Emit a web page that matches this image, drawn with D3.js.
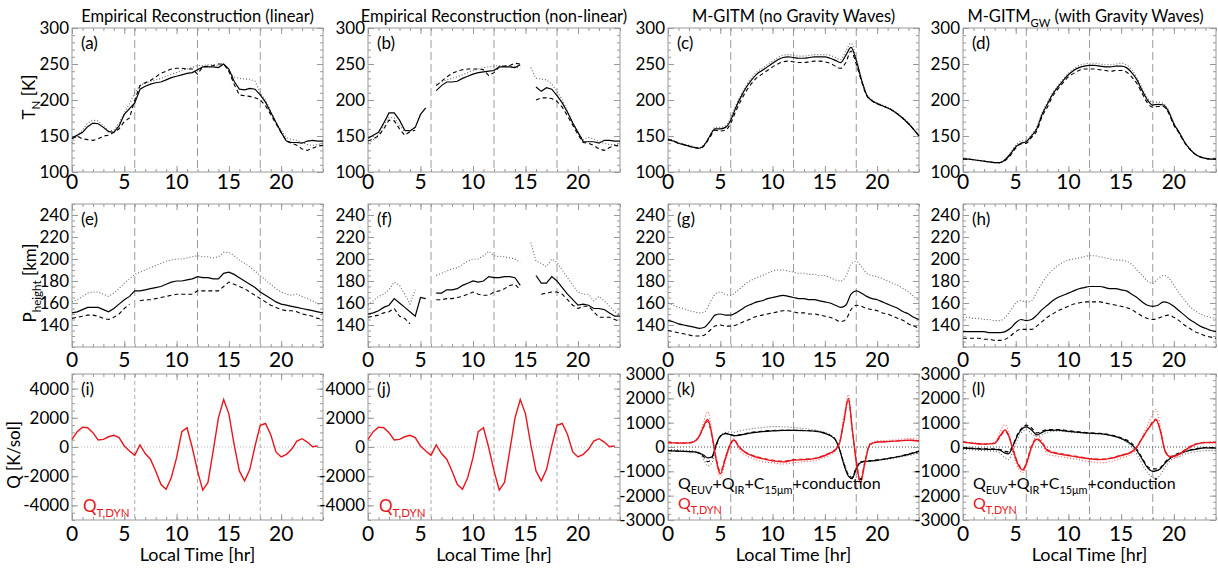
<!DOCTYPE html>
<html>
<head>
<meta charset="utf-8">
<script src="https://cdn.jsdelivr.net/npm/d3@7"></script>
<style>
body { margin: 0; background: #fff; }
text { font-family: Lato, "Open Sans", sans-serif; fill: #000; }
</style>
</head>
<body>
<script>
// local time grid (hr) for the half-hourly curves
var hours = [0,0.5,1,1.5,2,2.5,3,3.5,4,4.5,5,5.5,6,6.5,7,7.5,8,8.5,9,9.5,10,10.5,11,11.5,12,
             12.5,13,13.5,14,14.5,15,15.5,16,16.5,17,17.5,18,18.5,19,19.5,20,20.5,21,21.5,22,22.5,23,23.5,24];
// irregular grids for the model heating panels (k) and (l)
var hoursK = [0,1,2,2.5,3,3.4,3.8,4.2,4.6,5,5.5,6,6.3,6.8,7.5,8,9,10,11,12,13,14,15,15.5,16,16.4,16.8,17.25,17.6,18,18.4,18.8,19.3,20,21,22,23,24];
var hoursL = [0,1,2,3,3.5,4,4.3,4.8,5.2,5.7,6,6.5,7,7.5,8,9,10,11,12,13,14,15,16,16.5,17,17.5,18,18.3,18.7,19.2,19.7,20.5,21,22,23,24];

var timeTicks = [0, 5, 10, 15, 20];
var tempTicks = [100, 150, 200, 250, 300];
var heightTicks = [140, 160, 180, 200, 220, 240];
var qEmpTicks = [-4000, -2000, 0, 2000, 4000];
var qModTicks = [-3000, -2000, -1000, 0, 1000, 2000, 3000];
var terminators = [6, 12, 18];

// T_N [K]
var tempLinSolid  = [148,151,155,163,168,167,162,156,155,164,180,188,196,215,219,222,224,225,228,231,233,235,237,238,242,246,246,246,245,250,243,226,215,214,216,215,207,197,183,169,155,143,141,141,140,143,144,143,143];
var tempLinDashed = [146,150,146,145,144,146,150,151,155,160,170,175,200,220,224,227,232,237,240,243,244,244,243,243,236,246,247,248,250,250,240,222,207,206,205,203,200,192,180,167,155,143,140,137,132,130,133,136,137];
var tempLinDotted = [140,152,158,168,172,171,164,157,158,168,182,195,210,220,223,226,228,230,233,236,238,241,243,245,248,248,249,249,248,250,240,232,230,229,229,226,210,200,185,168,158,148,145,144,141,138,137,138,140];

var tempNlSolid  = [147,151,155,168,182,182,172,158,157,162,180,189,null,213,220,225,225,226,230,233,236,238,239,240,241,246,246,246,245,249,null,null,218,212,217,215,206,196,183,168,155,142,142,142,140,144,144,143,143];
var tempNlDashed = [143,146,150,160,172,171,160,151,156,158,null,null,null,220,226,232,237,240,242,243,243,243,242,234,238,246,247,248,251,250,null,null,200,203,203,202,198,190,178,165,152,141,140,137,132,130,134,137,136];
var tempNlDotted = [140,145,152,165,176,175,165,156,158,162,null,null,null,222,225,228,230,232,235,238,241,243,245,246,247,248,248,247,246,244,null,245,230,229,228,222,212,200,185,168,155,145,148,146,142,140,138,138,139];

var tempGitmSolid  = [145,143,140,138,136,134,133,138,150,160,160,162,172,190,205,218,228,236,241,246,251,256,259,260,259,258,258,259,260,260,260,258,255,252,262,273,255,228,207,199,195,192,189,185,180,174,167,159,150];
var tempGitmDashed = [145,143,140,138,136,134,133,137,148,158,157,158,168,185,200,213,223,231,236,241,246,250,253,254,253,252,252,253,254,254,253,251,247,244,252,268,250,226,206,199,195,192,189,185,180,174,167,159,150];
var tempGitmDotted = [146,144,141,139,137,135,134,139,151,162,162,164,176,193,208,221,231,239,244,249,254,259,262,263,262,261,261,262,263,263,263,262,259,256,268,279,258,230,208,200,196,193,190,186,181,175,168,159,150];

var tempGwSolid  = [118,118,117,116,115,114,113,113,117,125,135,140,142,150,160,180,194,208,218,227,235,241,245,247,248,248,247,246,246,247,247,245,238,228,213,200,193,194,193,184,167,155,142,132,125,121,119,118,118];
var tempGwDashed = [118,118,117,116,115,114,113,113,116,123,133,139,140,148,157,177,190,205,215,224,232,237,241,243,243,243,242,241,240,241,241,239,232,223,209,196,190,191,191,182,165,154,141,132,125,121,119,118,118];
var tempGwDotted = [118,118,117,116,115,114,113,113,118,127,137,143,144,152,163,182,197,210,220,229,237,243,248,250,251,251,250,249,249,250,251,249,242,231,216,203,197,197,195,186,168,156,143,133,125,121,119,118,118];

// P_height [km]
var htLinSolid  = [151,152,154,156,156,156,154,152,155,159,163,166,171,171,172,173,174,175,177,179,180,180,181,182,184,183,183,182,182,187,188,186,183,180,177,174,170,167,164,161,159,158,157,156,155,154,153,152,151];
var htLinDashed = [146,147,148,149,149,148,146,145,147,150,155,159,null,162,163,163,164,165,166,167,168,168,168,168,171,171,171,171,171,175,179,177,175,173,170,167,164,161,158,156,154,153,153,152,150,149,148,146,145];
var htLinDotted = [161,163,166,169,170,170,168,166,169,173,178,182,186,188,190,192,194,196,198,199,200,200,201,202,203,202,202,201,202,206,206,203,199,196,193,189,185,181,177,173,170,168,167,168,166,164,162,159,160];

var htNlSolid  = [150,151,153,156,158,164,160,156,152,148,165,164,null,169,169,172,172,173,176,178,180,179,180,184,183,183,184,184,183,176,null,null,185,178,178,184,180,174,168,163,158,159,158,155,155,154,151,148,148];
var htNlDashed = [147,148,149,151,152,155,148,146,141,null,null,null,null,163,163,164,164,165,166,168,170,168,167,167,170,171,173,176,177,172,null,null,null,168,169,170,170,168,163,158,155,157,157,152,147,147,147,145,143];
var htNlDotted = [158,162,166,168,172,179,176,168,159,172,null,null,null,185,187,189,191,192,195,198,200,200,203,207,203,202,202,201,200,197,null,215,198,196,193,200,197,190,183,176,170,168,168,162,166,162,157,152,150];

var htGitmSolid  = [144,143,141,140,139,138,137,138,143,149,150,149,149,151,154,157,159,161,162,164,165,166,167,166,165,164,164,163,163,162,161,160,158,156,158,168,171,169,166,164,163,161,159,157,155,152,150,147,145];
var htGitmDashed = [135,134,133,132,131,130,130,131,135,139,140,139,139,140,142,144,146,148,149,150,151,152,153,153,152,151,151,150,150,149,148,147,145,143,145,154,158,157,155,154,153,151,150,148,146,144,141,139,137];
var htGitmDotted = [160,158,156,155,153,152,151,152,160,168,170,168,167,170,174,178,181,183,185,187,189,190,190,189,188,187,187,186,186,185,185,183,181,180,184,195,198,193,187,185,184,182,180,178,176,173,170,166,162];

var htGwSolid  = [134,134,134,134,134,133,133,133,134,137,142,145,144,145,149,154,158,162,165,167,169,171,173,174,175,175,175,174,173,173,172,171,168,165,161,158,157,158,161,160,157,153,149,145,142,139,137,135,134];
var htGwDashed = [128,128,128,128,127,127,126,126,127,130,134,136,136,136,139,143,147,150,153,155,157,159,160,161,161,161,161,160,159,158,157,156,154,151,148,146,145,146,148,149,147,144,140,137,134,132,130,129,128];
var htGwDotted = [147,147,146,146,145,145,144,144,147,153,160,162,161,162,170,178,185,190,194,197,199,200,201,202,203,203,202,201,200,199,199,198,195,190,185,180,178,182,185,183,176,169,163,157,153,150,148,147,146];

// Q [K/sol], empirical dynamical heating (same in i and j)
var qDynEmp = [520,1050,1360,1320,980,480,520,700,800,640,70,-270,-570,140,-450,-840,-1640,-2550,-2900,-2090,-730,1050,1320,-50,-1640,-2950,-2430,-270,2000,3250,2270,180,-1640,-2320,-1550,70,1480,1610,860,-340,-680,-500,-160,410,570,340,20,70,null];

// Q [K/sol], M-GITM (k) on hoursK
var qDynGitmSolid  = [180,160,170,220,450,850,1130,500,-500,-1100,-450,150,290,0,-250,-350,-480,-570,-610,-540,-520,-480,-350,-250,-120,150,1000,2000,800,-600,-1450,-700,100,200,220,250,280,250];
var qDynGitmDashed = [180,160,170,220,450,800,1050,450,-450,-1000,-400,150,300,0,-230,-330,-450,-540,-580,-520,-500,-460,-330,-230,-100,180,1050,1950,750,-550,-1400,-650,100,200,220,250,280,260];
var qDynGitmDotted = [200,180,180,240,500,1000,1450,650,-600,-1250,-600,100,350,-100,-350,-450,-600,-650,-700,-650,-600,-560,-430,-320,-150,200,1200,2150,900,-700,-1550,-800,150,250,270,300,350,320];
var qSumGitmSolid  = [-150,-170,-190,-200,-250,-330,-450,-400,100,450,550,500,460,480,540,580,630,660,680,680,670,650,560,470,300,-100,-700,-1200,-1300,-900,-650,-600,-580,-550,-480,-400,-300,-180];
var qSumGitmDashed = [-150,-170,-190,-200,-260,-400,-600,-450,50,430,560,520,480,500,560,600,650,680,690,690,680,660,570,480,320,-80,-650,-1150,-1250,-850,-620,-580,-560,-530,-470,-390,-290,-170];
var qSumGitmDotted = [-100,-120,-150,-170,-250,-500,-780,-650,0,450,600,620,600,650,720,750,800,840,830,800,760,700,600,500,320,-50,-600,-1100,-1250,-750,-600,-580,-570,-560,-500,-430,-350,-250];

// Q [K/sol], M-GITM_GW (l) on hoursL
var qDynGwSolid  = [200,150,120,150,450,700,500,-200,-700,-950,-700,0,320,150,-150,-280,-350,-420,-480,-520,-470,-350,-200,0,350,700,1000,1120,700,-200,-400,-300,-150,100,180,180];
var qDynGwDashed = [200,150,120,150,400,650,480,-150,-650,-900,-650,50,350,200,-100,-250,-330,-400,-470,-500,-450,-330,-180,20,380,720,1050,1150,720,-180,-380,-280,-130,120,190,190];
var qDynGwDotted = [220,170,140,180,600,920,650,-300,-850,-1050,-800,-100,500,250,-300,-380,-450,-520,-600,-650,-600,-450,-280,-50,400,900,1350,1550,900,-250,-450,-350,-200,80,200,200];
var qSumGwSolid  = [-50,-70,-90,-100,-130,-250,-280,100,500,780,830,700,500,600,680,690,640,600,570,550,480,350,100,-150,-500,-850,-1000,-980,-900,-650,-450,-280,-200,-100,-40,-50];
var qSumGwDashed = [-30,-50,-70,-80,-100,-180,-200,150,550,830,900,780,580,650,720,720,670,620,580,560,500,380,150,-100,-450,-800,-900,-900,-850,-600,-420,-250,-180,-80,-20,-30];
var qSumGwDotted = [-100,-120,-150,-170,-250,-450,-520,-100,350,650,700,550,420,500,600,650,620,580,550,530,470,330,0,-300,-700,-1050,-1250,-1300,-1150,-800,-550,-400,-300,-200,-150,-150];

var width = 1218, height = 568;
var red = '#e8161c';

var svg = d3.select('body').append('svg')
    .attr('width', width)
    .attr('height', height);

var cols = [[72, 323], [368, 620], [668, 919], [963, 1216]];
var rows = [[28, 172], [204, 347], [374, 520]];
var xLabelOffset = [17, 20, 21];

var styles = {
    k:    { stroke: '#000', dash: null,    w: 1.2 },
    kd:   { stroke: '#000', dash: '4,3',   w: 1.1 },
    kdot: { stroke: '#666', dash: '1,2',   w: 1.1 },
    r:    { stroke: red,    dash: null,    w: 1.4 },
    rd:   { stroke: red,    dash: '4,3',   w: 1.1 },
    rdot: { stroke: '#f05a5e', dash: '1,2', w: 1.1 }
};

var panels = [
    { c: 0, r: 0, lab: '(a)', dom: [100, 300], ticks: tempTicks, minor: 10, curve: d3.curveLinear, t: hours,
      s: [[tempLinDotted, 'kdot'], [tempLinDashed, 'kd'], [tempLinSolid, 'k']] },
    { c: 1, r: 0, lab: '(b)', dom: [100, 300], ticks: tempTicks, minor: 10, curve: d3.curveLinear, t: hours,
      s: [[tempNlDotted, 'kdot'], [tempNlDashed, 'kd'], [tempNlSolid, 'k']] },
    { c: 2, r: 0, lab: '(c)', dom: [100, 300], ticks: tempTicks, minor: 10, curve: d3.curveMonotoneX, t: hours,
      s: [[tempGitmDotted, 'kdot'], [tempGitmDashed, 'kd'], [tempGitmSolid, 'k']] },
    { c: 3, r: 0, lab: '(d)', dom: [100, 300], ticks: tempTicks, minor: 10, curve: d3.curveMonotoneX, t: hours,
      s: [[tempGwDotted, 'kdot'], [tempGwDashed, 'kd'], [tempGwSolid, 'k']] },
    { c: 0, r: 1, lab: '(e)', dom: [120, 250], ticks: heightTicks, minor: 5, curve: d3.curveLinear, t: hours,
      s: [[htLinDotted, 'kdot'], [htLinDashed, 'kd'], [htLinSolid, 'k']] },
    { c: 1, r: 1, lab: '(f)', dom: [120, 250], ticks: heightTicks, minor: 5, curve: d3.curveLinear, t: hours,
      s: [[htNlDotted, 'kdot'], [htNlDashed, 'kd'], [htNlSolid, 'k']] },
    { c: 2, r: 1, lab: '(g)', dom: [120, 250], ticks: heightTicks, minor: 5, curve: d3.curveMonotoneX, t: hours,
      s: [[htGitmDotted, 'kdot'], [htGitmDashed, 'kd'], [htGitmSolid, 'k']] },
    { c: 3, r: 1, lab: '(h)', dom: [120, 250], ticks: heightTicks, minor: 5, curve: d3.curveMonotoneX, t: hours,
      s: [[htGwDotted, 'kdot'], [htGwDashed, 'kd'], [htGwSolid, 'k']] },
    { c: 0, r: 2, lab: '(i)', dom: [-5000, 5000], ticks: qEmpTicks, minor: 500, curve: d3.curveLinear, t: hours,
      s: [[qDynEmp, 'r']], dynOnly: true },
    { c: 1, r: 2, lab: '(j)', dom: [-5000, 5000], ticks: qEmpTicks, minor: 500, curve: d3.curveLinear, t: hours,
      s: [[qDynEmp, 'r']], dynOnly: true },
    { c: 2, r: 2, lab: '(k)', dom: [-3000, 3000], ticks: qModTicks, minor: 250, curve: d3.curveMonotoneX, t: hoursK,
      s: [[qSumGitmDotted, 'kdot'], [qSumGitmDashed, 'kd'], [qSumGitmSolid, 'k'],
          [qDynGitmDotted, 'rdot'], [qDynGitmDashed, 'rd'], [qDynGitmSolid, 'r']] },
    { c: 3, r: 2, lab: '(l)', dom: [-3000, 3000], ticks: qModTicks, minor: 250, curve: d3.curveMonotoneX, t: hoursL,
      s: [[qSumGwDotted, 'kdot'], [qSumGwDashed, 'kd'], [qSumGwSolid, 'k'],
          [qDynGwDotted, 'rdot'], [qDynGwDashed, 'rd'], [qDynGwSolid, 'r']] }
];

// text with subscripts: parts = [[string, isSub], ...]
function rich(sel, parts, size) {
    parts.forEach(function (p, i) {
        var prev = i > 0 && parts[i - 1][1];
        var dy = 0;
        if (p[1] && !prev) dy = size * 0.3;
        if (!p[1] && prev) dy = -size * 0.3;
        sel.append('tspan')
            .attr('dy', dy)
            .style('font-size', (p[1] ? size * 0.68 : size) + 'px')
            .text(p[0]);
    });
    return sel;
}

panels.forEach(function (p) {
    var x0 = cols[p.c][0], x1 = cols[p.c][1];
    var y0 = rows[p.r][0], y1 = rows[p.r][1];
    var x = d3.scaleLinear().domain([0, 24]).range([x0, x1]);
    var y = d3.scaleLinear().domain(p.dom).range([y1, y0]);
    var g = svg.append('g');

    // terminator lines
    g.selectAll('line.term').data(terminators).enter().append('line')
        .attr('x1', function (d) { return x(d); }).attr('x2', function (d) { return x(d); })
        .attr('y1', y0).attr('y2', y1)
        .attr('stroke', p.dynOnly ? '#aaa' : '#9a9a9a')
        .attr('stroke-width', 1)
        .attr('stroke-dasharray', p.dynOnly ? '4,3' : '8,4');

    if (p.r == 2) {
        g.append('line')
            .attr('x1', x0).attr('x2', x1)
            .attr('y1', y(0)).attr('y2', y(0))
            .attr('stroke', p.dynOnly ? '#bbb' : '#444')
            .attr('stroke-width', 1)
            .attr('stroke-dasharray', '1,2');
    }

    // minor / major ticks on all four sides, pointing in
    var xMinor = d3.range(0, 25, 1);
    var yMinor = d3.range(p.dom[0], p.dom[1] + 1e-6, p.minor);
    var tk = [
        [d3.axisBottom(x).tickValues(xMinor).tickSize(-3), y1],
        [d3.axisTop(x).tickValues(xMinor).tickSize(-3), y0],
        [d3.axisBottom(x).tickValues(timeTicks).tickSize(-6), y1],
        [d3.axisTop(x).tickValues(timeTicks).tickSize(-6), y0]
    ];
    tk.forEach(function (a) {
        g.append('g').attr('transform', 'translate(0,' + a[1] + ')')
            .call(a[0].tickFormat(''))
            .call(function (s) { s.select('.domain').remove(); s.selectAll('line').attr('stroke', '#999'); });
    });
    var tky = [
        [d3.axisLeft(y).tickValues(yMinor).tickSize(-3), x0],
        [d3.axisRight(y).tickValues(yMinor).tickSize(-3), x1],
        [d3.axisLeft(y).tickValues(p.ticks).tickSize(-6), x0],
        [d3.axisRight(y).tickValues(p.ticks).tickSize(-6), x1]
    ];
    tky.forEach(function (a) {
        g.append('g').attr('transform', 'translate(' + a[1] + ',0)')
            .call(a[0].tickFormat(''))
            .call(function (s) { s.select('.domain').remove(); s.selectAll('line').attr('stroke', '#999'); });
    });

    g.append('rect')
        .attr('x', x0).attr('y', y0)
        .attr('width', x1 - x0).attr('height', y1 - y0)
        .attr('fill', 'none')
        .attr('stroke', '#999');

    // tick labels
    g.selectAll('text.yl').data(p.ticks).enter().append('text')
        .attr('x', x0 - 3)
        .attr('y', function (d) { return y(d); })
        .attr('dy', '0.35em')
        .attr('text-anchor', 'end')
        .style('font-size', '17px')
        .text(function (d) { return d; });
    g.selectAll('text.xl').data(timeTicks).enter().append('text')
        .attr('x', function (d) { return x(d); })
        .attr('y', y1 + xLabelOffset[p.r])
        .attr('text-anchor', 'middle')
        .style('font-size', '21px')
        .text(function (d) { return d; });

    g.append('text')
        .attr('x', x0 + 9).attr('y', y0 + 21)
        .style('font-size', '17px')
        .text(p.lab);

    // series
    var line = d3.line()
        .defined(function (d) { return d[1] != null; })
        .x(function (d) { return x(d[0]); })
        .y(function (d) { return y(d[1]); })
        .curve(p.curve);
    p.s.forEach(function (ser) {
        var st = styles[ser[1]];
        var pts = p.t.map(function (t, i) { return [t, ser[0][i]]; });
        g.append('path')
            .datum(pts)
            .attr('d', line)
            .attr('fill', 'none')
            .attr('stroke', st.stroke)
            .attr('stroke-width', st.w)
            .attr('stroke-dasharray', st.dash);
    });

    if (p.r == 2) {
        if (!p.dynOnly) {
            rich(g.append('text').attr('x', x0 + 10).attr('y', y0 + 115),
                [['Q', 0], ['EUV', 1], ['+Q', 0], ['IR', 1], ['+C', 0], ['15μm', 1], ['+conduction', 0]], 16);
        }
        rich(g.append('text')
            .attr('x', x0 + (p.dynOnly ? 11 : 10))
            .attr('y', p.dynOnly ? y0 + 138 : y0 + 135), [['Q', 0], ['T,DYN', 1]], p.dynOnly ? 17 : 16)
            .selectAll('tspan').style('fill', red);
        g.append('text')
            .attr('x', (x0 + x1) / 2).attr('y', 561)
            .attr('text-anchor', 'middle')
            .style('font-size', '18px')
            .text('Local Time [hr]');
    }
});

// column titles
var titles = [
    [['Empirical Reconstruction (linear)', 0]],
    [['Empirical Reconstruction (non-linear)', 0]],
    [['M-GITM (no Gravity Waves)', 0]],
    [['M-GITM', 0], ['GW', 1], [' (with Gravity Waves)', 0]]
];
titles.forEach(function (t, i) {
    rich(svg.append('text')
        .attr('x', (cols[i][0] + cols[i][1]) / 2 - (i == 3 ? 4 : 0))
        .attr('y', 22)
        .attr('text-anchor', 'middle'), t, 16.5);
});

// y axis titles
var yTitles = [
    [[['T', 0], ['N', 1], [' [K]', 0]], 35, 97],
    [[['P', 0], ['height', 1], [' [km]', 0]], 36, 283],
    [[['Q [K/sol]', 0]], 20, 455]
];
yTitles.forEach(function (t) {
    rich(svg.append('text')
        .attr('transform', 'translate(' + t[1] + ',' + t[2] + ') rotate(-90)')
        .attr('text-anchor', 'middle'), t[0], 17);
});
</script>
</body>
</html>
